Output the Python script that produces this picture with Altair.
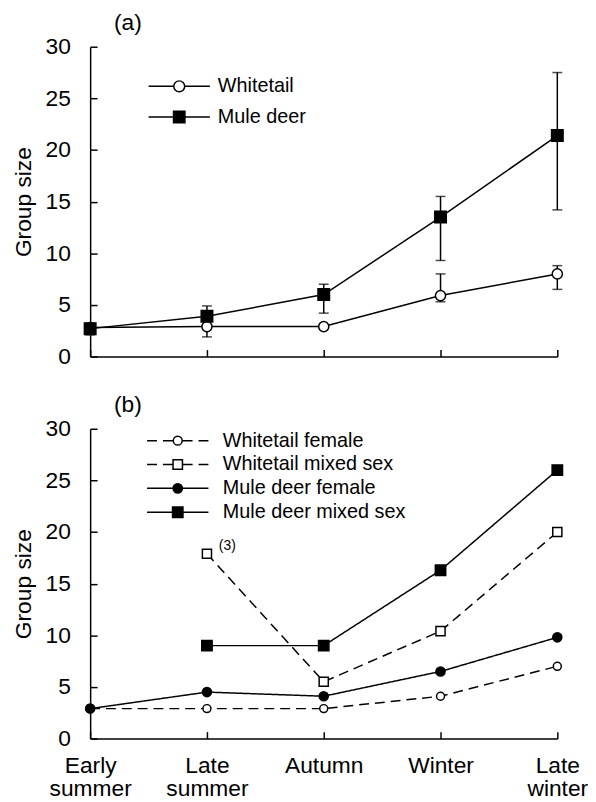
import altair as alt
import pandas as pd

seasons = ["Early summer", "Late summer", "Autumn", "Winter", "Late winter"]
y_ticks = [0, 5, 10, 15, 20, 25, 30]

# Panel (a): means with error bars
species_a = ["Whitetail", "Mule deer"]
a_whitetail = [2.8, 2.9, 2.9, 5.9, 8.0]
a_whitetail_lo = [2.5, 1.9, 2.7, 5.3, 6.5]
a_whitetail_hi = [3.1, 3.9, 3.1, 8.0, 8.8]
a_mule = [2.7, 3.9, 6.0, 13.5, 21.4]
a_mule_lo = [2.1, 3.0, 4.2, 9.3, 14.2]
a_mule_hi = [3.2, 4.9, 7.0, 15.5, 27.5]

# Panel (b): by group type
series_b = ["Whitetail female", "Whitetail mixed sex", "Mule deer female", "Mule deer mixed sex"]
species_of_b = ["Whitetail", "Whitetail", "Mule deer", "Mule deer"]
b_wt_female = [2.9, 2.9, 2.9, 4.1, 7.0]
b_wt_mixed = [None, 17.9, 5.5, 10.4, 20.0]
b_md_female = [2.9, 4.5, 4.1, 6.5, 9.8]
b_md_mixed = [None, 9.0, 9.0, 16.3, 26.0]

# Annotation in panel (b)
note_series = ["Whitetail mixed sex"]
note_season = ["Late summer"]
note_text = ["(3)"]

# ---------- styles ----------
FONT = "Liberation Sans"
W, H = 472, 313

style_a = {  # shape, fill, size
    "Whitetail": ("circle", "white", 105),
    "Mule deer": ("square", "black", 135),
}
style_b = {
    "Whitetail female": ("circle", "white", 65),
    "Whitetail mixed sex": ("square", "white", 85),
    "Mule deer female": ("circle", "black", 85),
    "Mule deer mixed sex": ("square", "black", 110),
}
dash_by_species = {"Whitetail": [10, 6], "Mule deer": [1, 0]}

rows_a = []
for sp, vals, los, his in zip(species_a, [a_whitetail, a_mule], [a_whitetail_lo, a_mule_lo], [a_whitetail_hi, a_mule_hi]):
    for s, v, lo, hi in zip(seasons, vals, los, his):
        rows_a.append({"season": s, "species": sp, "value": v, "lo": lo, "hi": hi})
df_a = pd.DataFrame(rows_a)

rows_b = []
for sr, sp, vals in zip(series_b, species_of_b, [b_wt_female, b_wt_mixed, b_md_female, b_md_mixed]):
    for s, v in zip(seasons, vals):
        if v is not None:
            rows_b.append({"season": s, "series": sr, "species": sp, "value": v})
df_b = pd.DataFrame(rows_b)

df_note = pd.DataFrame({"series": note_series, "season": note_season, "text": note_text}).merge(
    df_b, on=["series", "season"])


# legend symbols: line + marker (path units = pixels with symbolSize 4)
def circle(r):
    return f"M{-r},0A{r},{r},0,1,1,{r},0A{r},{r},0,1,1,{-r},0Z"


def square(h):
    return f"M{-h},{-h}L{h},{-h}L{h},{h}L{-h},{h}Z"


def solid(h):
    return f"M-31,0L{-h},0M{h},0L31,0"


dashed = "M-31,0L-21,0M-15,0L-5,0M5,0L15,0M21,0L31,0"

paths_a = [solid(5.5) + circle(5.5), solid(5.75) + square(5.75)]
paths_b = [dashed + circle(4.5), dashed + square(4.75), solid(4.75) + circle(4.75), solid(5.25) + square(5.25)]

xscale = alt.Scale(type="point", padding=0, domain=seasons)
yscale = alt.Scale(domain=[0, 30])


def X(axis=None):
    return alt.X("season:N", scale=xscale, axis=axis)


def Y(field="value", axis=None):
    return alt.Y(f"{field}:Q", scale=yscale, axis=axis)


y_main_axis = alt.Axis(title="Group size", values=y_ticks, ticks=False, tickSize=0,
                       labelPadding=20, titlePadding=10, grid=False)
x_tick_axis = alt.Axis(orient="top", offset=-H, labels=False, domain=False, ticks=True,
                       tickSize=7, title=None, grid=False)
y_tick_axis = alt.Axis(orient="right", offset=-W, labels=False, domain=False, ticks=True,
                       tickSize=7, title=None, values=y_ticks, grid=False)


def legend(x, y, pad, off):
    return alt.Legend(title=None, orient="none", legendX=x, legendY=y, symbolSize=4,
                      symbolStrokeWidth=1.5, symbolOpacity=1,
                      labelOffset=off, rowPadding=pad, padding=0, labelFontSize=20, labelLimit=300,
                      labelFont=FONT, labelColor="black")


def point_layers(df, field, styles):
    out = []
    for name, (shape, fill, size) in styles.items():
        out.append(
            alt.Chart(df).transform_filter(alt.datum[field] == name).mark_point(
                shape=shape, filled=True, fill=fill, stroke="black", strokeWidth=1.5,
                size=size, opacity=1).encode(x=X(), y=Y())
        )
    return out


def legend_layer(df, field, names, paths, fills, leg):
    return alt.Chart(df).transform_filter("false").mark_point(
        filled=True, strokeWidth=1.5, size=4, opacity=1).encode(
        shape=alt.Shape(f"{field}:N", scale=alt.Scale(domain=names, range=paths), legend=leg),
        fill=alt.Fill(f"{field}:N", scale=alt.Scale(domain=names, range=fills), legend=leg),
        stroke=alt.Stroke(f"{field}:N", scale=alt.Scale(domain=names, range=["black"] * len(names)), legend=leg),
    )


# ---------- panel (a) ----------
lines_a = alt.Chart(df_a).mark_line(color="black", strokeWidth=1.5).encode(
    x=X(alt.Axis(title=None, labels=False, ticks=False, tickSize=0, domain=True, grid=False)),
    y=Y(axis=y_main_axis),
    detail="species:N",
)
err_a = alt.Chart(df_a).mark_rule(color="black", strokeWidth=1.5).encode(
    x=X(), y=Y("lo"), y2="hi:Q")
caps_a = alt.Chart(df_a).transform_fold(["lo", "hi"], as_=["end", "cap"]).mark_tick(
    color="black", thickness=1.5, size=10).encode(x=X(), y=Y("cap"))
leg_a = legend_layer(df_a, "species", species_a, paths_a, [style_a[s][1] for s in species_a],
                     legend(80, 30, 11, 29))
ticks_a = alt.Chart(df_a).mark_point(opacity=0).encode(x=X(x_tick_axis), y=Y(axis=y_tick_axis))

panel_a = alt.layer(lines_a, err_a, caps_a, *point_layers(df_a, "species", style_a), leg_a, ticks_a
                    ).resolve_axis(x="independent", y="independent"
                                   ).properties(width=W, height=H, title=alt.Title("(a)"))

# ---------- panel (b) ----------
lines_b = alt.Chart(df_b).mark_line(color="black", strokeWidth=1.5).encode(
    x=X(alt.Axis(title=None, labelExpr="split(datum.label, ' ')", labelAngle=0, ticks=False, tickSize=0,
                 labelPadding=16, labelLineHeight=24, labelOverlap=False, domain=True, grid=False)),
    y=Y(axis=y_main_axis),
    detail="series:N",
    strokeDash=alt.StrokeDash("species:N", scale=alt.Scale(domain=species_a,
                                                            range=[dash_by_species[s] for s in species_a]),
                              legend=None),
)
leg_b = legend_layer(df_b, "series", series_b, paths_b, [style_b[s][1] for s in series_b],
                     legend(78.5, 2, 4.1, 35.5))
note_b = alt.Chart(df_note).mark_text(align="left", baseline="middle", dx=12, dy=-8, fontSize=14,
                                      font=FONT, color="black").encode(x=X(), y=Y(), text="text:N")
ticks_b = alt.Chart(df_b).mark_point(opacity=0).encode(x=X(x_tick_axis), y=Y(axis=y_tick_axis))

panel_b = alt.layer(lines_b, *point_layers(df_b, "series", style_b), leg_b, note_b, ticks_b
                    ).resolve_axis(x="independent", y="independent"
                                   ).properties(width=W, height=H, title=alt.Title("(b)"))

chart = alt.vconcat(panel_a, panel_b, spacing=26).resolve_scale(
    shape="independent", fill="independent", stroke="independent", strokeDash="independent"
).properties(
    padding={"left": 4, "top": 0, "right": 0, "bottom": 0}
).configure_view(
    stroke=None
).configure_axis(
    labelFont=FONT, labelFontSize=23, labelColor="black",
    titleFont=FONT, titleFontSize=23, titleFontWeight="normal", titleColor="black",
    domainColor="black", domainWidth=1.5, tickColor="black", tickWidth=1.5, grid=False,
).configure_title(
    font=FONT, fontSize=23, fontWeight="normal", color="black", anchor="start", frame="group",
    dx=24, offset=1, baseline="alphabetic",
)

chart.save("out.html", embed_options={"renderer": "svg", "actions": False})
